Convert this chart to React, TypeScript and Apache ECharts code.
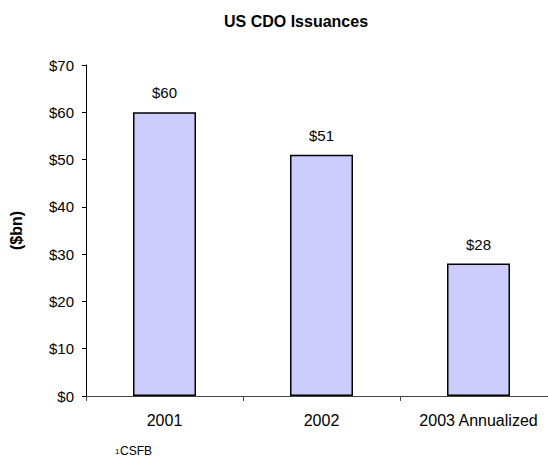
import React, { useEffect, useRef } from "react";
import * as echarts from "echarts";

const categories = ["2001", "2002", "2003 Annualized"];
const issuances = [60, 51, 28];
const yTicks = { min: 0, max: 70, interval: 10 };
const titleText = "US CDO Issuances";
const yAxisTitle = "($bn)";
const footnote = "CSFB";

export default function App() {
  const ref = useRef<HTMLDivElement>(null);
  useEffect(() => {
    if (!ref.current) return;
    const chart = echarts.init(ref.current, null, { renderer: "svg" });
    const font = "Arial, 'Liberation Sans', sans-serif";
    chart.setOption({
      animation: false,
      backgroundColor: "#ffffff",
      title: {
        text: titleText,
        left: 291,
        top: 8,
        textAlign: "center",
        textStyle: { fontFamily: font, fontSize: 16, fontWeight: "bold", color: "#000" },
      },
      grid: { left: 80, top: 65, width: 477, height: 331 },
      xAxis: {
        type: "category",
        data: categories,
        axisLine: { lineStyle: { color: "#444", width: 1 } },
        axisTick: { show: true, length: 5, lineStyle: { color: "#444" } },
        axisLabel: { fontFamily: font, fontSize: 16, color: "#000", margin: 16 },
      },
      yAxis: {
        type: "value",
        min: yTicks.min,
        max: yTicks.max,
        interval: yTicks.interval,
        name: yAxisTitle,
        nameLocation: "middle",
        nameGap: 62,
        nameRotate: 90,
        nameTextStyle: { fontFamily: font, fontSize: 16, fontWeight: "bold", color: "#000" },
        axisLine: { show: true, lineStyle: { color: "#000", width: 1 } },
        axisTick: { show: true, length: 4, lineStyle: { color: "#000" } },
        splitLine: { show: false },
        axisLabel: {
          fontFamily: font,
          fontSize: 15,
          color: "#000",
          margin: 12,
          formatter: (v: number) => "$" + v,
        },
      },
      series: [
        {
          type: "bar",
          data: issuances,
          barWidth: 63,
          itemStyle: { color: "#CCCCFF", borderColor: "#000", borderWidth: 1.5 },
          label: {
            show: true,
            position: "top",
            distance: 12,
            fontFamily: font,
            fontSize: 15,
            color: "#000",
            formatter: (p: any) => "$" + p.value,
          },
        },
      ],
      graphic: [
        {
          type: "text",
          left: 115,
          top: 447,
          style: { text: "1", fontFamily: font, fontSize: 8, fill: "#000" },
        },
        {
          type: "text",
          left: 120,
          top: 445,
          style: { text: footnote, fontFamily: font, fontSize: 12, fill: "#000" },
        },
      ],
    });
    return () => chart.dispose();
  }, []);
  return (
    <div
      style={{
        position: "fixed",
        left: 0,
        top: 0,
        width: 548,
        height: 457,
        overflow: "hidden",
        background: "#fff",
      }}
    >
      <div ref={ref} style={{ width: 570, height: 457 }} />
    </div>
  );
}
